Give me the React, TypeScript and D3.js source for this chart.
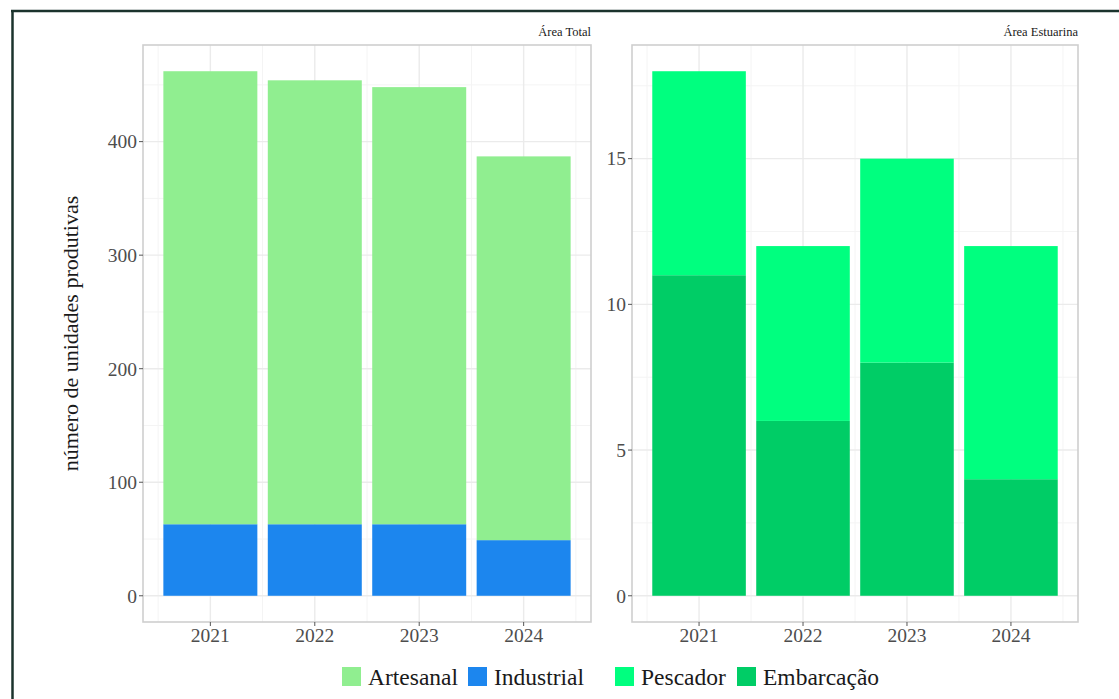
import React from "react";
import * as d3 from "d3";

const years = [2021, 2022, 2023, 2024];
const industrial = [63, 63, 63, 49];
const artesanal = [399, 391, 385, 338];
const embarcacao = [11, 6, 8, 4];
const pescador = [7, 6, 7, 8];

const leftTicks = [0, 100, 200, 300, 400];
const rightTicks = [0, 5, 10, 15];

const COLORS = {
  Artesanal: "#90EE90",
  Industrial: "#1C86EE",
  Pescador: "#00FF7F",
  Embarcação: "#00CD66",
};

const FONT = "Liberation Serif, Tinos, Times New Roman, DejaVu Serif, serif";
const W = 1119;
const H = 699;
const TOP = 45;
const BOTTOM = 622;

type PanelProps = {
  x0: number;
  x1: number;
  title: string;
  bottomVals: number[];
  topVals: number[];
  bottomColor: string;
  topColor: string;
  ticks: number[];
  minorTicks: number[];
};

function Panel({ x0, x1, title, bottomVals, topVals, bottomColor, topColor, ticks, minorTicks }: PanelProps) {
  const totals = bottomVals.map((v, i) => v + topVals[i]);
  const ymax = d3.max(totals) as number;
  const ypad = ymax * 0.05;
  const y = d3.scaleLinear().domain([-ypad, ymax + ypad]).range([BOTTOM, TOP]);
  const xlo = years[0] - 0.45;
  const xhi = years[years.length - 1] + 0.45;
  const xpad = (xhi - xlo) * 0.05;
  const x = d3.scaleLinear().domain([xlo - xpad, xhi + xpad]).range([x0, x1]);
  const bw = 0.9;
  const minorX = [2020.5, 2021.5, 2022.5, 2023.5, 2024.5];
  return (
    <g>
      <rect x={x0} y={TOP} width={x1 - x0} height={BOTTOM - TOP} fill="#fff" />
      {minorTicks.map((t) => (
        <line key={"my" + t} x1={x0} x2={x1} y1={y(t)} y2={y(t)} stroke="#f4f4f4" strokeWidth={1} />
      ))}
      {minorX.map((t) => (
        <line key={"mx" + t} x1={x(t)} x2={x(t)} y1={TOP} y2={BOTTOM} stroke="#f4f4f4" strokeWidth={1} />
      ))}
      {ticks.map((t) => (
        <line key={"gy" + t} x1={x0} x2={x1} y1={y(t)} y2={y(t)} stroke="#ebebeb" strokeWidth={1.4} />
      ))}
      {years.map((t) => (
        <line key={"gx" + t} x1={x(t)} x2={x(t)} y1={TOP} y2={BOTTOM} stroke="#ebebeb" strokeWidth={1.4} />
      ))}
      {years.map((yr, i) => (
        <g key={"bar" + yr}>
          <rect
            x={x(yr - bw / 2)}
            width={x(yr + bw / 2) - x(yr - bw / 2)}
            y={y(bottomVals[i])}
            height={y(0) - y(bottomVals[i])}
            fill={bottomColor}
          />
          <rect
            x={x(yr - bw / 2)}
            width={x(yr + bw / 2) - x(yr - bw / 2)}
            y={y(totals[i])}
            height={y(bottomVals[i]) - y(totals[i])}
            fill={topColor}
          />
        </g>
      ))}
      <rect x={x0} y={TOP} width={x1 - x0} height={BOTTOM - TOP} fill="none" stroke="#cfcfcf" strokeWidth={1.6} />
      {ticks.map((t) => (
        <g key={"yt" + t}>
          <line x1={x0 - 4} x2={x0} y1={y(t)} y2={y(t)} stroke="#555" strokeWidth={1} />
          <text
            x={x0 - 6}
            y={y(t)}
            dy="0.35em"
            textAnchor="end"
            style={{ fontFamily: FONT }}
            fontSize={19.5}
            fill="#4d4d4d"
          >
            {t}
          </text>
        </g>
      ))}
      {years.map((t) => (
        <g key={"xt" + t}>
          <line x1={x(t)} x2={x(t)} y1={BOTTOM} y2={BOTTOM + 4} stroke="#555" strokeWidth={1} />
          <text x={x(t)} y={BOTTOM + 20} textAnchor="middle" style={{ fontFamily: FONT }} fontSize={19.5} fill="#4d4d4d">
            {t}
          </text>
        </g>
      ))}
      <text x={x1} y={TOP - 9} textAnchor="end" style={{ fontFamily: FONT }} fontSize={12.5} fill="#1a1a1a">
        {title}
      </text>
    </g>
  );
}

const legendItems = [
  { name: "Artesanal", x: 342 },
  { name: "Industrial", x: 468 },
  { name: "Pescador", x: 615 },
  { name: "Embarcação", x: 737 },
];

export default function App() {
  return (
    <svg width={W} height={H} style={{ position: "absolute", left: 0, top: 0, background: "#fff", fontFamily: FONT }}>
      <rect x={0} y={0} width={W} height={H} fill="#fff" />
      <line x1={11} x2={W} y1={11} y2={11} stroke="#1b332d" strokeWidth={2.5} />
      <line x1={12.5} x2={12.5} y1={10} y2={H} stroke="#1b332d" strokeWidth={2.5} />
      <Panel
        x0={143}
        x1={591}
        title="Área Total"
        bottomVals={industrial}
        topVals={artesanal}
        bottomColor={COLORS.Industrial}
        topColor={COLORS.Artesanal}
        ticks={leftTicks}
        minorTicks={[50, 150, 250, 350, 450]}
      />
      <Panel
        x0={632}
        x1={1078}
        title="Área Estuarina"
        bottomVals={embarcacao}
        topVals={pescador}
        bottomColor={COLORS.Embarcação}
        topColor={COLORS.Pescador}
        ticks={rightTicks}
        minorTicks={[2.5, 7.5, 12.5, 17.5]}
      />
      <text
        transform={`translate(78, ${(TOP + BOTTOM) / 2}) rotate(-90)`}
        textAnchor="middle"
        style={{ fontFamily: FONT }}
        fontSize={22}
        fill="#1a1a1a"
      >
        número de unidades produtivas
      </text>
      {legendItems.map((it) => (
        <g key={it.name}>
          <rect x={it.x} y={667} width={19} height={19} fill={(COLORS as any)[it.name]} />
          <text x={it.x + 26} y={685} style={{ fontFamily: FONT }} fontSize={23.5} fill="#1a1a1a">
            {it.name}
          </text>
        </g>
      ))}
    </svg>
  );
}
